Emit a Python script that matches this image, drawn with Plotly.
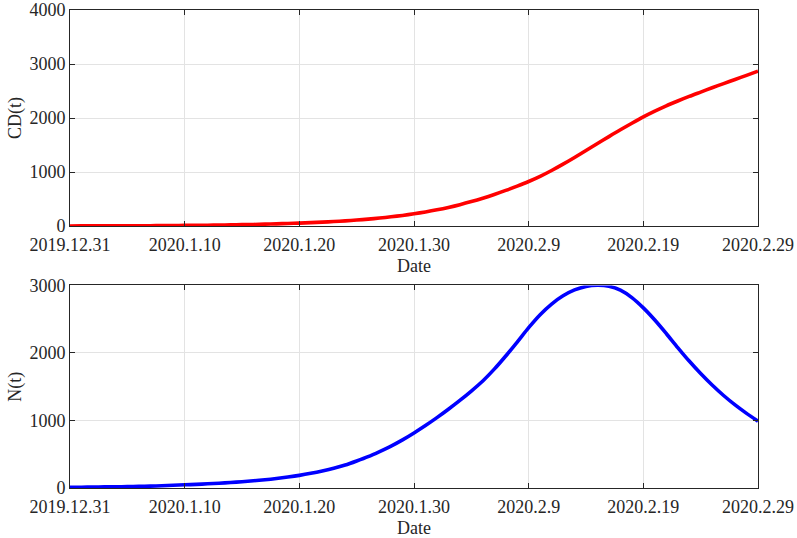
import plotly.graph_objects as go
from plotly.subplots import make_subplots

# Day index since 2019-12-31
days = list(range(61))

tick_days = [0, 10, 20, 30, 40, 50, 60]
tick_labels = ["2019.12.31", "2020.1.10", "2020.1.20", "2020.1.30",
               "2020.2.9", "2020.2.19", "2020.2.29"]

# Cumulative CD(t)
cd_values = [2, 2.5, 3, 3.5, 4, 5, 6, 7, 8.5, 10,
             12, 14, 16, 19, 22, 26, 30, 35, 41, 48,
             55, 63, 72, 83, 96, 111, 128, 148, 171, 197,
             227, 261, 300, 345, 396, 453, 516, 585, 660, 740,
             825, 920, 1028, 1146, 1270, 1400, 1528, 1656, 1782, 1903,
             2020, 2127, 2226, 2315, 2400, 2480, 2560, 2638, 2714, 2790,
             2868]

# N(t)
n_values = [10, 12, 14, 16, 18, 21, 24, 28, 33, 40,
            47, 54, 62, 71, 81, 93, 107, 122, 140, 162,
            187, 217, 252, 292, 340, 400, 465, 540, 620, 712,
            815, 925, 1042, 1166, 1297, 1436, 1585, 1760, 1955, 2162,
            2375, 2567, 2724, 2846, 2933, 2985, 3002, 2988, 2930, 2820,
            2668, 2488, 2288, 2080, 1880, 1695, 1525, 1370, 1230, 1105,
            990]

FONT = "Liberation Serif, Times New Roman, serif"
AX = "#262626"
GRID = "#e3e3e3"
FS = 18

fig = make_subplots(rows=2, cols=1, vertical_spacing=0.12)

fig.add_trace(go.Scatter(x=days, y=cd_values, mode="lines",
                         line=dict(color="#ff0000", width=3.6, shape="spline", smoothing=0.8),
                         showlegend=False, cliponaxis=False), row=1, col=1)
fig.add_trace(go.Scatter(x=days, y=n_values, mode="lines",
                         line=dict(color="#0000ff", width=3.6, shape="spline", smoothing=0.8),
                         showlegend=False, cliponaxis=False), row=2, col=1)

xaxis_common = dict(range=[0, 60], tickvals=tick_days, ticktext=tick_labels,
                    showgrid=True, gridcolor=GRID, gridwidth=1,
                    showline=True, linecolor=AX, linewidth=1, mirror="ticks",
                    ticks="inside", ticklen=5, tickcolor=AX,
                    zeroline=False, automargin=False, ticklabelstandoff=2,
                    tickfont=dict(family=FONT, size=FS, color=AX),
                    title=dict(text="Date", font=dict(family=FONT, size=FS, color=AX),
                               standoff=5))
yaxis_common = dict(showgrid=True, gridcolor=GRID, gridwidth=1,
                    showline=True, linecolor=AX, linewidth=1, mirror="ticks",
                    ticks="inside", ticklen=5, tickcolor=AX,
                    zeroline=False, automargin=False,
                    tickfont=dict(family=FONT, size=FS, color=AX))

fig.update_xaxes(**xaxis_common)
fig.update_yaxes(**yaxis_common)

fig.update_layout(
    width=797, height=538,
    margin=dict(l=70, r=39, t=10, b=50),
    paper_bgcolor="white", plot_bgcolor="white",
    xaxis=dict(domain=[0, 1]),
    yaxis=dict(domain=[0.548, 1.0], range=[0, 4000], tickvals=[0, 1000, 2000, 3000, 4000],
               title=dict(text="CD(t)", font=dict(family=FONT, size=FS, color=AX), standoff=3)),
    xaxis2=dict(domain=[0, 1]),
    yaxis2=dict(domain=[0.0, 0.4238], range=[0, 3000], tickvals=[0, 1000, 2000, 3000],
                title=dict(text="N(t)", font=dict(family=FONT, size=FS, color=AX), standoff=3)),
)

fig.write_html("out.html", config={"displayModeBar": False},
               post_script="document.body.style.margin='0';document.body.style.overflow='hidden';")
